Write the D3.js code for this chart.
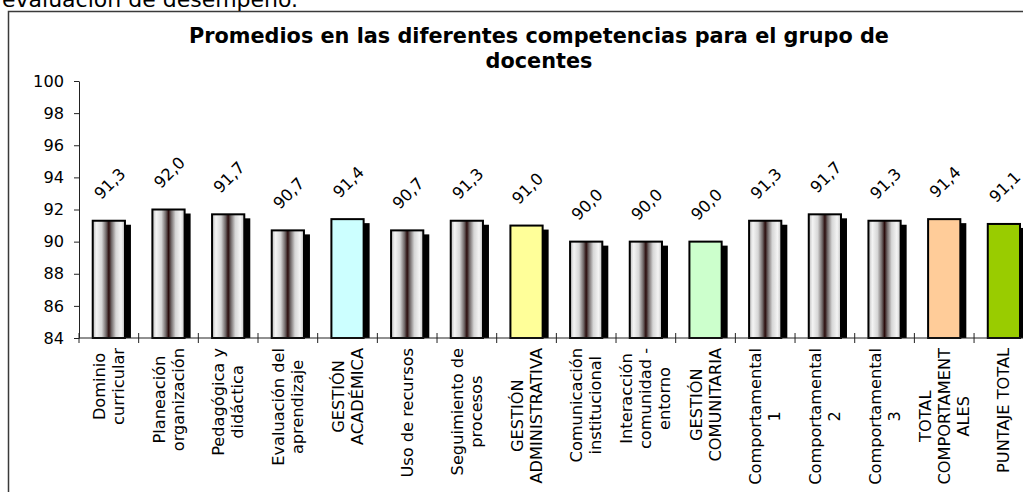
<!DOCTYPE html>
<html>
<head>
<meta charset="utf-8">
<script src="https://cdn.jsdelivr.net/npm/d3@7"></script>
<style>
  html, body { margin: 0; padding: 0; background: #fff; overflow: hidden; }
  svg { display: block; font-family: "DejaVu Sans", Verdana, sans-serif; }
</style>
</head>
<body>
<svg id="chart" width="1023" height="492"></svg>
<script>
// Category labels (one entry per line of the wrapped label)
const categories = [
  ["Dominio", "curricular"],
  ["Planeación", "organización"],
  ["Pedagógica y", "didáctica"],
  ["Evaluación del", "aprendizaje"],
  ["GESTIÓN", "ACADÉMICA"],
  ["Uso de recursos"],
  ["Seguimiento de", "procesos"],
  ["GESTIÓN", "ADMINISTRATIVA"],
  ["Comunicación", "institucional"],
  ["Interacción", "comunidad -", "entorno"],
  ["GESTIÓN", "COMUNITARIA"],
  ["Comportamental", "1"],
  ["Comportamental", "2"],
  ["Comportamental", "3"],
  ["TOTAL", "COMPORTAMENT", "ALES"],
  ["PUNTAJE TOTAL"]
];

// Average score per competency
const values = [91.3, 92.0, 91.7, 90.7, 91.4, 90.7, 91.3, 91.0, 90.0, 90.0, 90.0, 91.3, 91.7, 91.3, 91.4, 91.1];

// Y axis tick labels
const yTicks = [84, 86, 88, 90, 92, 94, 96, 98, 100];

// Solid fills for the summary bars; the rest use the striped gradient
const summaryFill = {
  "GESTIÓN ACADÉMICA": "#ccffff",
  "GESTIÓN ADMINISTRATIVA": "#ffff99",
  "GESTIÓN COMUNITARIA": "#ccffcc",
  "TOTAL COMPORTAMENT ALES": "#ffcc99",
  "PUNTAJE TOTAL": "#99cc00"
};

const svg = d3.select("#chart");
const fontSize = 16.2;

// Gradient used for the regular bars (light edges, dark centre streak)
const defs = svg.append("defs");
const grad = defs.append("linearGradient")
  .attr("id", "barGrad").attr("x1", "0").attr("x2", "1").attr("y1", "0").attr("y2", "0");
[
  [0, "#bcbcbc"], [0.12, "#f4f4f4"], [0.28, "#d6d6d6"], [0.42, "#6e6666"],
  [0.5, "#2a0c0c"], [0.58, "#6e6666"], [0.72, "#d6d6d6"], [0.88, "#f4f4f4"], [1, "#c4c4c4"]
].forEach(([o, c]) => grad.append("stop").attr("offset", o).attr("stop-color", c));

// Document heading partially above the visible area
svg.append("text")
  .attr("x", 2).attr("y", 7)
  .attr("font-size", 22)
  .attr("fill", "#000")
  .text("evaluación de desempeño.");

// Chart frame
svg.append("rect")
  .attr("x", 8.5).attr("y", 11.5)
  .attr("width", 1100).attr("height", 600)
  .attr("fill", "#fff")
  .attr("stroke", "#3a3a3a").attr("stroke-width", 1.5);

// Title
const title = svg.append("text")
  .attr("text-anchor", "middle")
  .attr("font-weight", "bold")
  .attr("font-size", 20.8)
  .attr("fill", "#000");
title.append("tspan").attr("x", 539).attr("y", 43)
  .text("Promedios en las diferentes competencias para el grupo de");
title.append("tspan").attr("x", 539).attr("y", 68).text("docentes");

// Scales
const plotLeft = 79, step = 59.67;
const x = d3.scaleBand()
  .domain(d3.range(categories.length))
  .range([plotLeft, plotLeft + step * categories.length])
  .paddingInner(0.46)
  .paddingOuter(0.23);
const y = d3.scaleLinear().domain([84, 100]).range([338, 81]);
const y0 = y(84);

// Y axis
const yAxis = svg.append("g")
  .attr("transform", `translate(${plotLeft},0)`)
  .call(d3.axisLeft(y).tickValues(yTicks).tickSize(5).tickSizeOuter(0).tickPadding(10).tickFormat(d => d));
yAxis.select(".domain").attr("stroke", "#222").attr("stroke-width", 1);
yAxis.selectAll(".tick line").attr("stroke", "#222");
yAxis.selectAll(".tick text")
  .attr("font-family", "DejaVu Sans, Verdana, sans-serif")
  .attr("font-size", fontSize).attr("fill", "#000");

// Bars: shadow, then bar
const bars = svg.append("g");
const barData = values.map((v, i) => ({ v, i, name: categories[i].join(" ") }));

bars.selectAll("rect.shadow")
  .data(barData).join("rect")
  .attr("class", "shadow")
  .attr("x", d => x(d.i) + 6)
  .attr("y", d => y(d.v) + 4)
  .attr("width", x.bandwidth())
  .attr("height", d => y0 - y(d.v) - 4)
  .attr("fill", "#000");

bars.selectAll("rect.bar")
  .data(barData).join("rect")
  .attr("class", "bar")
  .attr("x", d => x(d.i))
  .attr("y", d => y(d.v))
  .attr("width", x.bandwidth())
  .attr("height", d => y0 - y(d.v))
  .attr("fill", d => summaryFill[d.name] || "url(#barGrad)")
  .attr("stroke", "#000").attr("stroke-width", 2);

// X axis line with category boundary ticks
const xAxis = svg.append("g");
xAxis.append("line")
  .attr("x1", plotLeft).attr("x2", plotLeft + step * categories.length)
  .attr("y1", y0).attr("y2", y0)
  .attr("stroke", "#222").attr("stroke-width", 1);
xAxis.selectAll("line.tick")
  .data(d3.range(categories.length + 1)).join("line")
  .attr("class", "tick")
  .attr("x1", i => plotLeft + i * x.step()).attr("x2", i => plotLeft + i * x.step())
  .attr("y1", y0 - 5).attr("y2", y0 + 5)
  .attr("stroke", "#222").attr("stroke-width", 1);

// Value labels, rotated
svg.append("g").selectAll("text")
  .data(barData).join("text")
  .attr("transform", d => `translate(${x(d.i) + x.bandwidth() / 2 + 1},${y(d.v) - 37}) rotate(-45)`)
  .attr("text-anchor", "middle")
  .attr("dominant-baseline", "central")
  .attr("font-size", fontSize)
  .attr("fill", "#000")
  .text(d => d3.format(".1f")(d.v).replace(".", ","));

// Category labels, vertical, block top-aligned under the axis
const lineH = 19;
const labelTop = 348;
const labels = svg.append("g").selectAll("g")
  .data(categories).join("g");
labels.each(function (lines, i) {
  const g = d3.select(this);
  const n = lines.length;
  const texts = g.selectAll("text").data(lines).join("text")
    .attr("x", 0)
    .attr("y", (d, k) => (k - (n - 1) / 2) * lineH)
    .attr("text-anchor", "middle")
    .attr("dominant-baseline", "central")
    .attr("font-size", fontSize)
    .attr("fill", "#000")
    .text(d => d);
  let maxW = 0;
  texts.each(function () { maxW = Math.max(maxW, this.getComputedTextLength()); });
  const cx = x(i) + x.bandwidth() / 2;
  g.attr("transform", `translate(${cx},${labelTop + maxW / 2}) rotate(-90)`);
});
</script>
</body>
</html>
